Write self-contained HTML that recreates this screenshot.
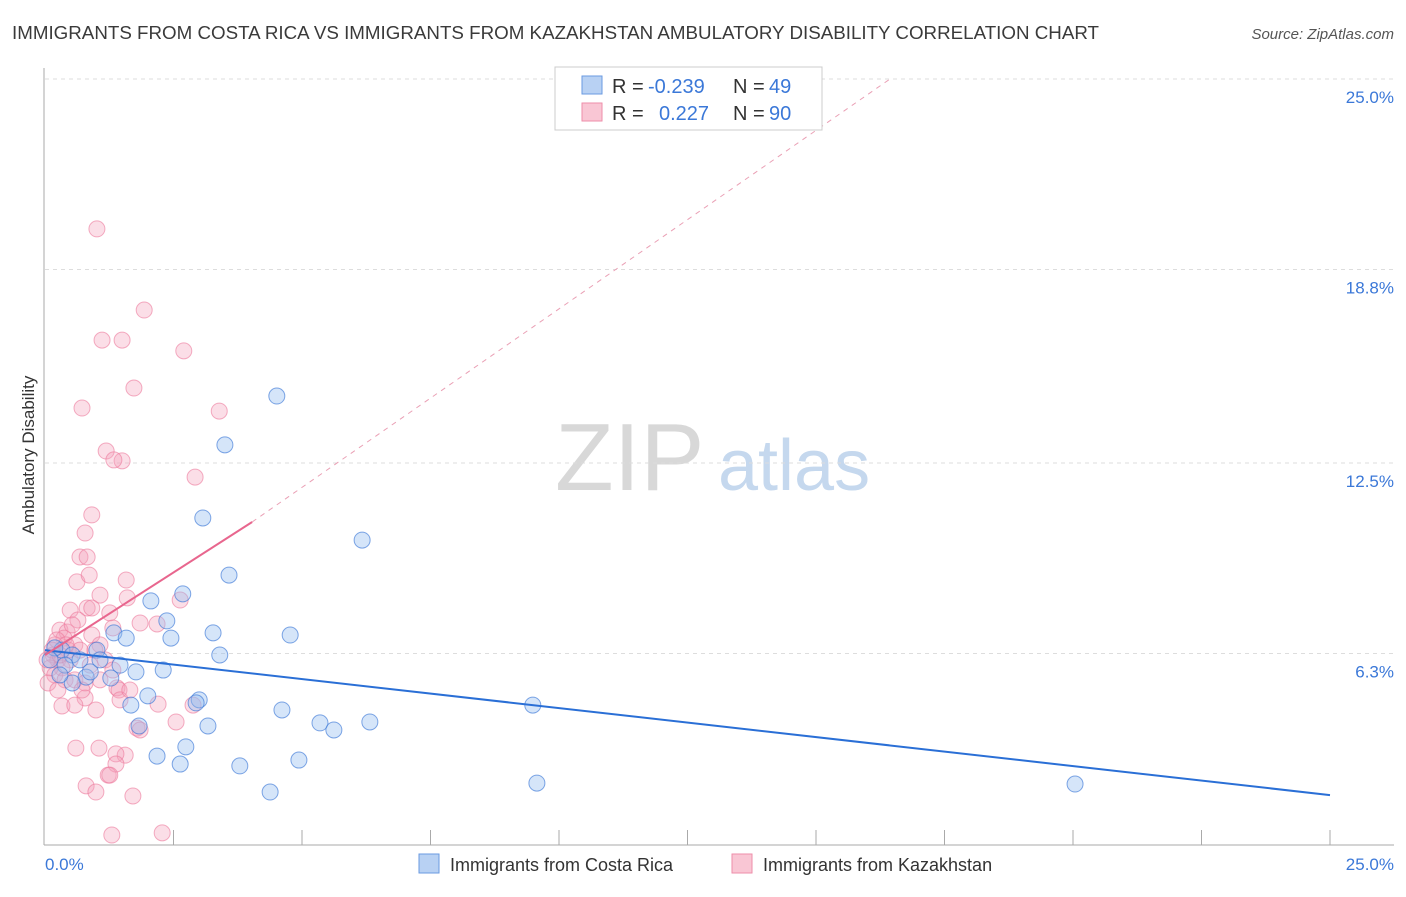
<!DOCTYPE html>
<html><head><meta charset="utf-8"><style>
body{margin:0;background:#fff;font-family:"Liberation Sans",sans-serif;}
svg text{font-family:"Liberation Sans",sans-serif;}
</style></head><body>
<svg id="chart" width="1406" height="892" xmlns="http://www.w3.org/2000/svg">
<text x="12" y="39" font-size="18" fill="#3a3a3a" textLength="1087" lengthAdjust="spacingAndGlyphs">IMMIGRANTS FROM COSTA RICA VS IMMIGRANTS FROM KAZAKHSTAN AMBULATORY DISABILITY CORRELATION CHART</text>
<text x="1394" y="39" font-size="15" fill="#555" font-style="italic" text-anchor="end">Source: ZipAtlas.com</text>
<text x="555" y="490" font-size="96" fill="#d8d8d8" font-family="Liberation Serif">ZIP</text>
<text x="718" y="490" font-size="72" fill="#c5d8ee">atlas</text>
<g id="grid"></g>
<g id="axes"></g>
<g id="marks"></g>
<text transform="translate(34,455) rotate(-90)" font-size="17" fill="#333" text-anchor="middle">Ambulatory Disability</text>
<text x="45" y="870" font-size="17" fill="#3b78d8">0.0%</text>
<text x="1394" y="870" font-size="17" fill="#3b78d8" text-anchor="end">25.0%</text>
<g>
<rect x="555" y="67" width="267" height="63" fill="#fff" stroke="#ccc"/>
<rect x="582" y="76" width="20" height="18" fill="#b8d1f3" stroke="#6a9ae0"/>
<rect x="582" y="103" width="20" height="18" fill="#f9c6d4" stroke="#ee8eaa"/>
<text x="612" y="93" font-size="20" fill="#333">R =</text>
<text x="648" y="93" font-size="20" fill="#3b78d8">-0.239</text>
<text x="733" y="93" font-size="20" fill="#333">N =</text>
<text x="769" y="93" font-size="20" fill="#3b78d8">49</text>
<text x="612" y="120" font-size="20" fill="#333">R =</text>
<text x="659" y="120" font-size="20" fill="#3b78d8">0.227</text>
<text x="733" y="120" font-size="20" fill="#333">N =</text>
<text x="769" y="120" font-size="20" fill="#3b78d8">90</text>
</g>
<g>
<rect x="419" y="854" width="20" height="19" fill="#b8d1f3" stroke="#6a9ae0"/>
<text x="450" y="871" font-size="18" fill="#333">Immigrants from Costa Rica</text>
<rect x="732" y="854" width="20" height="19" fill="#f9c6d4" stroke="#ee8eaa"/>
<text x="763" y="871" font-size="18" fill="#333">Immigrants from Kazakhstan</text>
</g>
</svg>
<script>
const yTicks=[6.3,12.5,18.8,25.0];
const yTickLabels=["6.3%","12.5%","18.8%","25.0%"];
const blueTrend=[6.41,1.69];
const pinkTrend=[6.25,10.58];
const pinkDashEnd=[16.44,25];
const bluePx=[[277,396],[225,445],[203,518],[362,540],[229,575],[183,594],[151,601],[167,621],[114,633],[126,638],[171,638],[213,633],[290,635],[220,655],[62,650],[72,655],[97,650],[120,665],[136,672],[163,670],[111,678],[86,677],[72,683],[148,696],[199,700],[196,703],[131,705],[282,710],[533,705],[139,726],[208,726],[320,723],[334,730],[370,722],[186,747],[157,756],[180,764],[240,766],[299,760],[270,792],[537,783],[1075,784],[55,648],[50,660],[65,665],[80,660],[90,672],[100,660],[60,675]];
const pinkPx=[[97,229],[144,310],[102,340],[122,340],[184,351],[134,388],[82,408],[219,411],[106,451],[122,461],[114,460],[195,477],[92,515],[85,533],[80,557],[87,557],[77,582],[89,575],[126,580],[100,595],[127,598],[180,600],[70,610],[87,608],[92,608],[110,613],[78,620],[140,623],[157,624],[113,628],[60,630],[67,632],[64,638],[92,635],[100,645],[55,645],[75,645],[53,655],[58,660],[70,660],[62,668],[50,668],[55,675],[65,680],[75,680],[48,683],[85,683],[95,650],[105,660],[113,670],[117,688],[119,690],[85,698],[62,706],[75,705],[96,710],[158,704],[176,722],[193,705],[137,728],[140,730],[76,748],[99,748],[125,755],[116,754],[116,764],[108,775],[110,775],[86,786],[96,792],[133,796],[112,835],[162,833],[57,640],[72,625],[52,650],[68,650],[80,650],[90,665],[58,690],[100,680],[47,660],[60,655],[66,645],[120,700],[82,690],[130,690]];
const blueX=bluePx.map(p=>+((p[0]-45)/51.4).toFixed(2));
const blueY=bluePx.map(p=>+((847-p[1])/30.72).toFixed(2));
const pinkX=pinkPx.map(p=>+((p[0]-45)/51.4).toFixed(2));
const pinkY=pinkPx.map(p=>+((847-p[1])/30.72).toFixed(2));

const NS="http://www.w3.org/2000/svg";
const xs=v=>45+v*51.4;
const ys=v=>847-v*30.72;
function mk(tag,attrs,parent){const e=document.createElementNS(NS,tag);for(const k in attrs)e.setAttribute(k,attrs[k]);document.getElementById(parent).appendChild(e);return e;}
yTicks.forEach((t,i)=>{
 const l=mk('line',{x1:45,x2:1394,y1:ys(t),y2:ys(t),stroke:'#ddd','stroke-dasharray':'4,4'},'grid');
 
 
 const tx=mk('text',{x:1394,y:ys(t)+24,'font-size':17,fill:'#3b78d8','text-anchor':'end'},'grid');
 tx.textContent=yTickLabels[i];
 
 
});
const ax=mk('line',{x1:44,x2:44,y1:68,y2:845,stroke:'#aaa'},'axes');


const bx=mk('line',{x1:44,x2:1394,y1:845,y2:845,stroke:'#aaa'},'axes');


for(let i=1;i<=10;i++){
 const t=mk('line',{x1:xs(i*2.5),x2:xs(i*2.5),y1:830,y2:845,stroke:'#aaa'},'axes');
 
 
}
pinkX.forEach((x,i)=>{
 const c=mk('circle',{cx:xs(x),cy:ys(pinkY[i]),r:8,fill:'rgba(244,160,185,0.35)',stroke:'rgba(236,120,155,0.6)','stroke-width':1},'marks');
 
 
});
blueX.forEach((x,i)=>{
 const c=mk('circle',{cx:xs(x),cy:ys(blueY[i]),r:8,fill:'rgba(150,190,240,0.4)',stroke:'rgba(60,120,215,0.65)','stroke-width':1},'marks');
 
 
});
const bl=mk('line',{x1:xs(0),y1:ys(blueTrend[0]),x2:xs(25),y2:ys(blueTrend[1]),stroke:'#2a6fd6','stroke-width':2},'marks');


const pd=mk('line',{x1:xs(4.03),y1:ys(pinkTrend[1]),x2:xs(pinkDashEnd[0]),y2:ys(pinkDashEnd[1]),stroke:'#eaa0b5','stroke-width':1,'stroke-dasharray':'5,5'},'marks');


const pl=mk('line',{x1:xs(0),y1:ys(pinkTrend[0]),x2:xs(4.03),y2:ys(pinkTrend[1]),stroke:'#e8668e','stroke-width':2},'marks');


</script>
</body></html>
